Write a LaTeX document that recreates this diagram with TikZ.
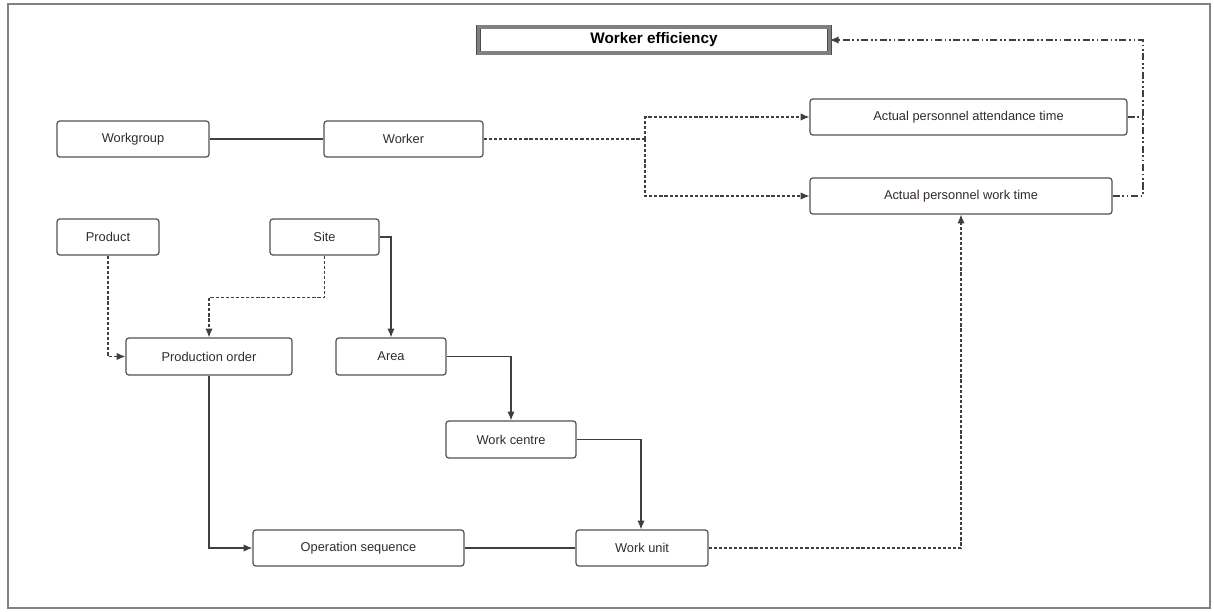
\documentclass[tikz,border=0pt]{standalone}
\usepackage{fontspec}
\setmainfont{Liberation Sans}
\usetikzlibrary{arrows.meta}
\definecolor{boxline}{RGB}{88,80,80}
\definecolor{wire}{RGB}{66,62,62}
\definecolor{labeltext}{RGB}{50,42,48}
\definecolor{framegray}{RGB}{130,130,130}
\tikzset{
  entity/.style={draw=boxline, line width=0.7pt, rounded corners=1.6pt, fill=white,
    minimum height=0.72cm, inner sep=0pt, text=labeltext,
    font=\fontsize{7.3}{8.7}\selectfont},
  headline/.style={draw=black!70, double=black!50, double distance=1.8pt, line width=0.45pt,
    minimum height=0.52cm, minimum width=7.02cm, inner sep=0pt, fill=white,
    font=\fontsize{8.7}{10}\selectfont\bfseries},
  solidlink/.style={draw=wire, line width=0.7pt},
  dotlink/.style={draw=wire, line width=0.7pt, dash pattern=on 1.8pt off 1.1pt},
  dashdotlink/.style={draw=wire, line width=0.7pt,
    dash pattern=on 4pt off 1.5pt on 1pt off 1.5pt on 1pt off 1.5pt},
  tip/.style={-{Latex[length=5pt,width=4.2pt]}}
}
\begin{document}
\begin{tikzpicture}[x=0.02cm,y=-0.02cm]
  \useasboundingbox (0,0) rectangle (1214,612);
  % outer frame
  \draw[framegray, line width=0.9pt] (8,4) rectangle (1210,608);

  % entities
  \node[headline] (eff) at (654,40) {Worker efficiency};
  \node[entity, minimum width=3.04cm] (wg) at (133,139) {Workgroup};
  \node[entity, minimum width=3.18cm] (wk) at (403.5,139) {Worker};
  \node[entity, minimum width=6.34cm] (att) at (968.5,117) {Actual personnel attendance time};
  \node[entity, minimum width=6.04cm] (wt) at (961,196) {Actual personnel work time};
  \node[entity, minimum width=2.04cm] (prod) at (108,237) {Product};
  \node[entity, minimum width=2.18cm] (site) at (324.5,237) {Site};
  \node[entity, minimum width=3.32cm, minimum height=0.74cm] (po) at (209,356.5) {Production order};
  \node[entity, minimum width=2.2cm, minimum height=0.74cm] (area) at (391,356.5) {Area};
  \node[entity, minimum width=2.6cm, minimum height=0.74cm] (wc) at (511,439.5) {Work centre};
  \node[entity, minimum width=4.22cm] (os) at (358.5,548) {Operation sequence};
  \node[entity, minimum width=2.64cm] (wu) at (642,548) {Work unit};

  % junction points
  \coordinate (split) at (645,139);
  \coordinate (rail) at (1143,40);

  % worker relations
  \draw[solidlink] (wg.east) -- (wk.west);
  \draw[dotlink] (wk.east) -- (split);
  \draw[dotlink, tip] (split) |- (att.west);
  \draw[dotlink, tip] (split) |- (wt.west);

  % time measures feeding the efficiency figure
  \draw[dashdotlink] (att.east) -- (att.east -| rail);
  \draw[dashdotlink, tip] (wt.east) -| (rail) -- (eff.east);

  % order and site structure
  \draw[dotlink, tip] (prod.south) |- (po.west);
  \draw[dotlink, tip] (site.south) -- ++(0,42) -| (po.north);
  \draw[solidlink, tip] (site.east) -| (area.north);
  \draw[solidlink, tip] (area.east) -| (wc.north);
  \draw[solidlink, tip] (wc.east) -| ([xshift=-0.02cm]wu.north);
  \draw[solidlink, tip] (po.south) |- (os.west);
  \draw[solidlink] (os.east) -- (wu.west);
  \draw[dotlink, tip] (wu.east) -| (wt.south);
\end{tikzpicture}
\end{document}
